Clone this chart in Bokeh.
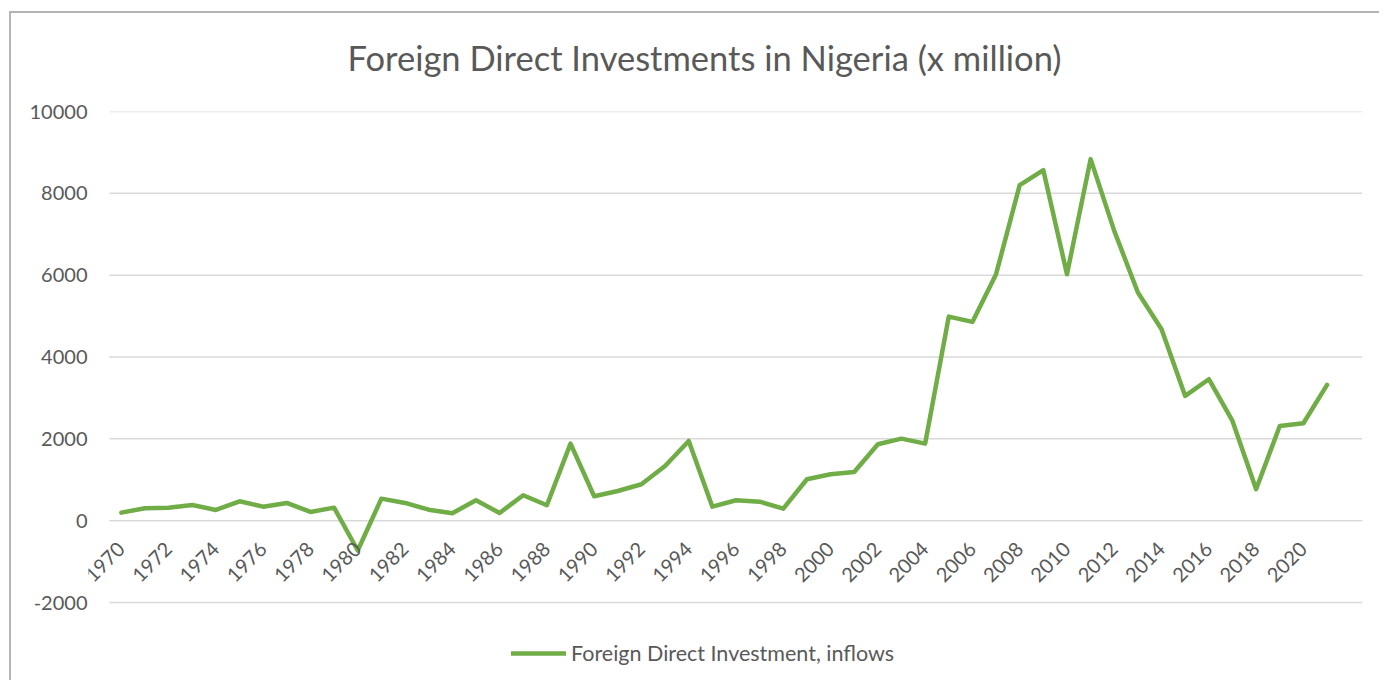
import numpy as np
from bokeh.plotting import figure
from bokeh.models import FixedTicker, Range1d, Legend, LegendItem, PrintfTickFormatter
from bokeh.embed import file_html
from bokeh.resources import INLINE

# ---- data ----
years = list(range(1970, 2022))
fdi = [196, 303, 318, 384, 262, 474, 342, 433, 213, 318,
       -730, 538, 433, 269, 181, 499, 188, 621, 377, 1883,
       597, 726, 890, 1337, 1949, 342, 499, 465, 293, 1012,
       1134, 1191, 1868, 2005, 1883, 4988, 4858, 6024, 8200, 8567,
       6024, 8836, 7083, 5575, 4680, 3049, 3457, 2438, 768, 2315,
       2381, 3318]
x_ticks = list(range(1970, 2021, 2))
y_ticks = [-2000, 0, 2000, 4000, 6000, 8000, 10000]
title_text = "Foreign Direct Investments in Nigeria (x million)"
series_name = "Foreign Direct Investment, inflows"

FONT = "Lato"
GREY = "#595959"
GREEN = "#70AD47"
GRID = "#d9d9d9"
BORDER = "#b4b4b4"

# layout (pixels)
plot_w, plot_h = 1253, 491          # area spanned by the value axis -2000..10000
extra_left_px = 21                  # room for the first rotated category label
extra_bottom_px = 70                # room for the legend under the axis

# category slots: 1970 .. 2022 (last slot empty)
cat_lo, cat_hi = years[0] - 0.5, 2022.5
slot_px = plot_w / (cat_hi - cat_lo)
x_start = cat_lo - extra_left_px / slot_px
y_lo, y_hi = y_ticks[0], y_ticks[-1]
y_start = y_lo - extra_bottom_px * (y_hi - y_lo) / plot_h

p = figure(output_backend="svg", toolbar_location=None,
           frame_width=plot_w + extra_left_px, frame_height=plot_h + extra_bottom_px,
           x_range=Range1d(x_start, cat_hi), y_range=Range1d(y_start, y_hi),
           min_border_left=88, min_border_right=17,
           min_border_top=111, min_border_bottom=8)
p.margin = (0, 0, 0, 0)
p.styles = {
    "background-image": f"linear-gradient({BORDER},{BORDER}), linear-gradient({BORDER},{BORDER})",
    "background-repeat": "no-repeat, no-repeat",
    "background-position": "9px 11px, 9px 11px",
    "background-size": "100% 2px, 2px 100%",
}
p.border_fill_color = None
p.background_fill_color = "white"
p.outline_line_color = None

# horizontal gridlines spanning the category area only
p.segment(x0=[cat_lo] * len(y_ticks), x1=[cat_hi] * len(y_ticks),
          y0=y_ticks, y1=y_ticks, line_color=GRID, line_width=1.5)

r = p.line(years, fdi, line_color=GREEN, line_width=4.5,
           line_join="round", line_cap="round")

# title
p.title.text = title_text
p.title.align = "left"
p.title.offset = 259
p.title.text_font = FONT
p.title.text_font_size = "34.5px"
p.title.text_font_style = "normal"
p.title.text_color = GREY
p.title.standoff = 68

# axes
p.xaxis.ticker = FixedTicker(ticks=x_ticks)
p.xaxis.fixed_location = 0
p.xaxis.major_label_orientation = np.pi / 4
p.xaxis.axis_line_color = None
p.xaxis.major_tick_line_color = None
p.xaxis.minor_tick_line_color = None
p.xaxis.major_tick_out = 0
p.xaxis.major_tick_in = 0
p.xaxis.major_label_text_font = FONT
p.xaxis.major_label_text_font_size = "20px"
p.xaxis.major_label_text_color = GREY
p.xaxis.major_label_standoff = 25

p.yaxis.ticker = FixedTicker(ticks=y_ticks)
p.yaxis.formatter = PrintfTickFormatter(format="%d")
p.yaxis.axis_line_color = None
p.yaxis.major_tick_line_color = None
p.yaxis.minor_tick_line_color = None
p.yaxis.major_tick_out = 0
p.yaxis.major_tick_in = 0
p.yaxis.major_label_text_font = FONT
p.yaxis.major_label_text_font_size = "20px"
p.yaxis.major_label_text_color = GREY
p.yaxis.major_label_standoff = 1

p.xgrid.visible = False
p.ygrid.visible = False

legend = Legend(items=[LegendItem(label=series_name, renderers=[r])],
                orientation="horizontal", location=(423, 6),
                label_text_font=FONT, label_text_font_size="21.5px",
                label_text_color=GREY, glyph_width=55, glyph_height=20,
                label_standoff=5, border_line_color=None,
                background_fill_alpha=0, padding=0, margin=0)
p.add_layout(legend)

open("out.html", "w").write(file_html(p, INLINE))
